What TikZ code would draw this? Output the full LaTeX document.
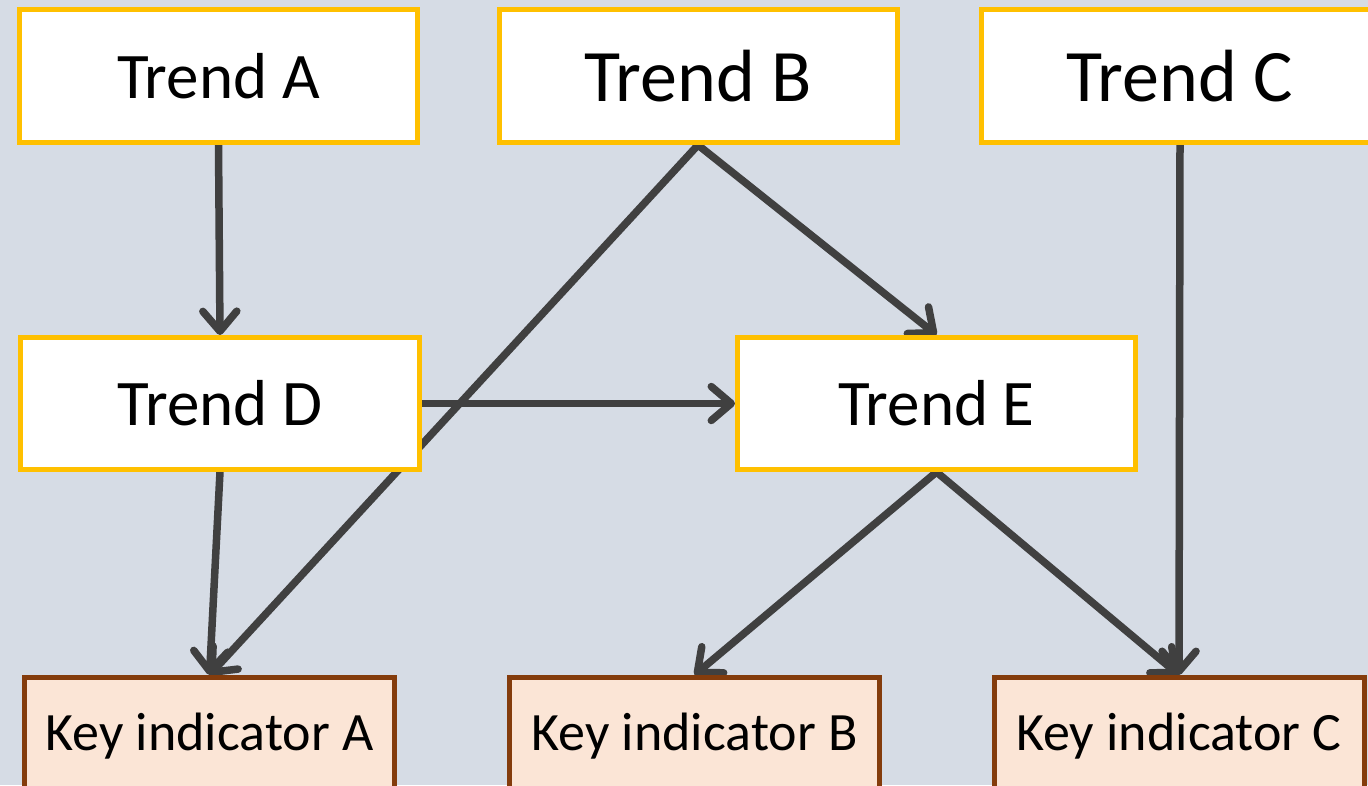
\documentclass[tikz,border=0pt]{standalone}
\usepackage{fontspec}
\setmainfont{Carlito}
\usetikzlibrary{arrows.meta}
\pgfdeclarelayer{canvas}
\pgfdeclarelayer{background}
\pgfsetlayers{canvas,background,main}
\definecolor{canvasbg}{HTML}{D6DCE5}
\definecolor{trendborder}{HTML}{FFC000}
\definecolor{keyborder}{HTML}{843C0C}
\definecolor{keyfill}{HTML}{FBE5D6}
\definecolor{linkcol}{HTML}{404040}
\tikzset{
  trendbox/.style={draw=trendborder, fill=white, line width=5pt,
    minimum width=398pt, minimum height=133pt, inner sep=0pt,
    font=\fontsize{65}{78}\selectfont},
  bigtrend/.style={trendbox, font=\fontsize{74}{88}\selectfont},
  keybox/.style={draw=keyborder, fill=keyfill, line width=5pt,
    minimum width=370pt, minimum height=118pt, inner sep=0pt,
    font=\fontsize{54}{64}\selectfont},
  link/.style={draw=linkcol, line width=7.5pt, line cap=round,
    -{Straight Barb[length=20pt, width=34pt, line cap=round, line join=round]}}
}
\begin{document}
\begin{tikzpicture}[x=1pt, y=-1pt]
  \useasboundingbox (0,0) rectangle (1368,785);
  \clip (0,0) rectangle (1368,785);
  \begin{pgfonlayer}{canvas}
    \fill[canvasbg] (0,0) rectangle (1368,785);
  \end{pgfonlayer}

  % upper row of trends
  \node[trendbox] (ta) at (218.5,76) {Trend A};
  \node[bigtrend] (tb) at (698,76) {Trend B};
  \node[bigtrend] (tc) at (1180,76) {Trend C};
  % middle row
  \node[trendbox, minimum width=399pt, minimum height=132pt] (td) at (220,403.5) {Trend D};
  \node[trendbox, minimum height=132pt] (te) at (936.5,403.5) {Trend E};
  % key indicators
  \node[keybox] (ka) at (209.5,736.5) {Key indicator A};
  \node[keybox] (kb) at (694.5,736.5) {Key indicator B};
  \node[keybox] (kc) at (1179,736.5) {Key indicator C};

  % connectors run underneath the boxes
  \begin{pgfonlayer}{background}
    \draw[link] (ta.south) -- (td.north);
    \draw[link] (tb.south) -- (ka.north);
    \draw[link] (tb.south) -- (te.north);
    \draw[link] (tc.south) -- (kc.north);
    \draw[link] (td.east) -- (te.west);
    \draw[link] (td.south) -- (ka.north);
    \draw[link] (te.south) -- (kb.north);
    \draw[link] (te.south) -- (kc.north);
  \end{pgfonlayer}
\end{tikzpicture}
\end{document}
